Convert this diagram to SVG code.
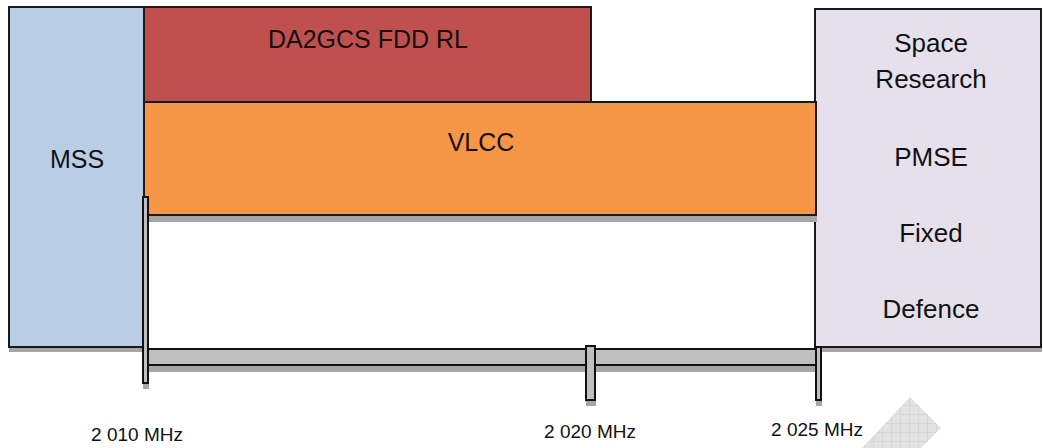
<svg xmlns="http://www.w3.org/2000/svg" width="1043" height="448" viewBox="0 0 1043 448">
<style>
.box{stroke:#1a1a1a;stroke-width:2}
.shadow{fill:#a6a6a6}
.lbl{font-family:"Liberation Sans",Arial,sans-serif;font-size:25px;fill:#111;text-anchor:middle}
.rlbl{font-size:26px}
.tick{font-family:"Liberation Sans",Arial,sans-serif;font-size:19px;fill:#111;text-anchor:middle}
.bar{fill:#bfbfbf;stroke:#111;stroke-width:2}
</style>
<defs>
<pattern id="grid" width="9" height="9" patternUnits="userSpaceOnUse">
<rect width="9" height="9" fill="#e2e2e2"/>
<path d="M0 0H9M0 0V9" stroke="#cbcbcb" stroke-width="1"/>
</pattern>
</defs>
<rect width="1043" height="448" fill="#fff"/>

<g id="node-mss">
<rect class="shadow" x="9" y="348" width="135" height="4"/>
<rect class="box" x="9" y="7" width="135" height="340" fill="#b9cde5"/>
<text class="lbl" x="77" y="168">MSS</text>
</g>

<g id="node-other">
<rect class="shadow" x="816" y="348" width="226" height="4"/>
<rect class="box" x="815" y="9" width="226" height="338" fill="#e5e0ec"/>
<text class="lbl rlbl" x="931" y="52">Space</text>
<text class="lbl rlbl" x="931" y="88">Research</text>
<text class="lbl rlbl" x="931" y="166">PMSE</text>
<text class="lbl rlbl" x="931" y="242">Fixed</text>
<text class="lbl rlbl" x="931" y="318">Defence</text>
</g>

<g id="node-da2gcs">
<rect class="box" x="144" y="7" width="447" height="95" fill="#c0504d"/>
<text class="lbl" x="368" y="48">DA2GCS FDD RL</text>
</g>

<g id="node-vlcc">
<rect class="shadow" x="145" y="216" width="672" height="6"/>
<rect class="box" x="144" y="102" width="672" height="113" fill="#f79646"/>
<text class="lbl" x="481" y="151">VLCC</text>
</g>

<g id="connectors">
<rect class="shadow" x="148" y="366" width="668" height="6"/>
<rect class="bar" x="148" y="349" width="668" height="16"/>
<rect class="shadow" x="143" y="384" width="6" height="5"/>
<rect class="bar" x="143" y="197" width="5" height="186"/>
<rect class="shadow" x="586" y="401" width="10" height="5"/>
<rect class="bar" x="586" y="346" width="9" height="54"/>
<rect class="shadow" x="816" y="401" width="6" height="5"/>
<rect class="bar" x="816" y="347" width="5" height="53"/>
</g>

<g id="axis-labels">
<text class="tick" x="137" y="441">2 010 MHz</text>
<text class="tick" x="590" y="438">2 020 MHz</text>
<text class="tick" x="817" y="436">2 025 MHz</text>
</g>

<polygon points="910,397 941,428 921,448 862,448" fill="url(#grid)"/>
</svg>
